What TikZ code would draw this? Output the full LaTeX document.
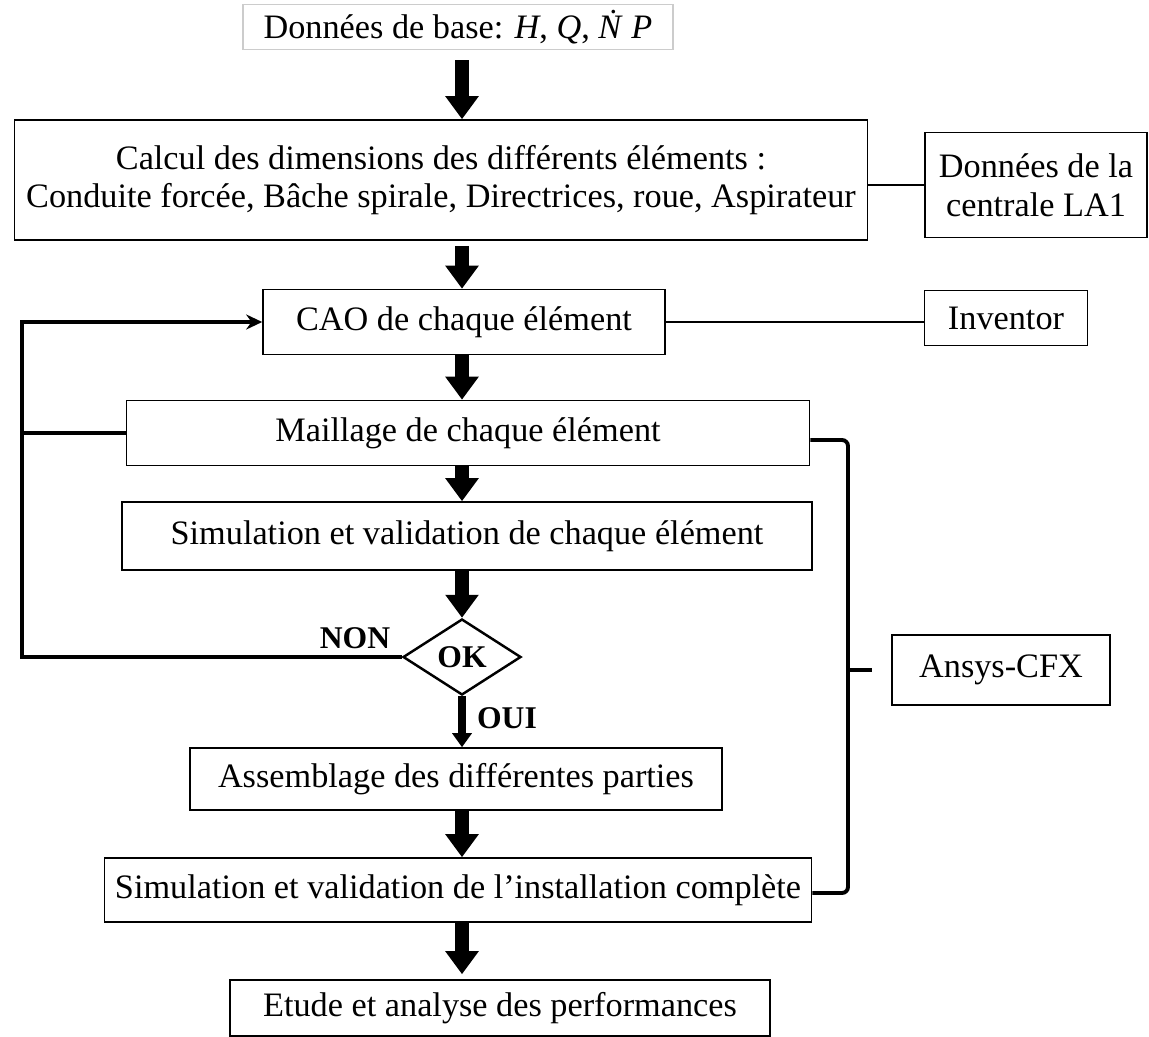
\documentclass[tikz,border=0pt]{standalone}
\usepackage{fontspec}
\setmainfont{Liberation Serif}
\usetikzlibrary{arrows.meta,shapes.geometric}
\begin{document}
\begin{tikzpicture}[x=0.02cm,y=-0.02cm,
  every node/.style={font=\fontsize{19.5}{22}\selectfont},
  box/.style={draw,line width=0.9pt,inner sep=0pt,align=center},
  heavy/.style={line width=0.28cm,-{Triangle[width=0.64cm,length=0.46cm]}},
  medium/.style={line width=0.17cm,-{Triangle[width=0.38cm,length=0.28cm]}},
  loopline/.style={line width=2.2pt},
  lbl/.style={font=\fontsize{18}{21}\selectfont\bfseries}]
\useasboundingbox (0,0) rectangle (1149,1037);
% nodes
\node[box,draw=black!20,minimum width=430*0.02cm,minimum height=45*0.02cm] (base) at (458,27) {Données de base: \textit{H}, \textit{Q}, \textit{\.{N}} \textit{P}};
\node[box,minimum width=853*0.02cm,minimum height=120*0.02cm] (calc) at (441,180) {Calcul des dimensions des différents éléments :\\Conduite forcée, Bâche spirale, Directrices, roue, Aspirateur};
\node[box,minimum width=222*0.02cm,minimum height=105*0.02cm] (la1) at (1036,185) {Données de la\\centrale LA1};
\node[box,minimum width=402*0.02cm,minimum height=65*0.02cm] (cao) at (464,322) {CAO de chaque élément};
\node[box,minimum width=163*0.02cm,minimum height=55*0.02cm] (inv) at (1006,318) {Inventor};
\node[box,minimum width=683*0.02cm,minimum height=65*0.02cm] (mail) at (468,433) {Maillage de chaque élément};
\node[box,minimum width=690*0.02cm,minimum height=68*0.02cm] (simu) at (467,536) {Simulation et validation de chaque élément};
\node[draw,line width=1.4pt,diamond,aspect=1.55,inner sep=0pt,minimum width=118*0.02cm,minimum height=76*0.02cm,font=\fontsize{18}{21}\selectfont\bfseries] (ok) at (462,657) {OK};
\node[box,minimum width=532*0.02cm,minimum height=62*0.02cm] (assem) at (456,779) {Assemblage des différentes parties};
\node[box,minimum width=707*0.02cm,minimum height=64*0.02cm] (inst) at (458,890) {Simulation et validation de l'installation complète};
\node[box,minimum width=540*0.02cm,minimum height=56*0.02cm] (etude) at (500,1008) {Etude et analyse des performances};
\node[box,minimum width=218*0.02cm,minimum height=70*0.02cm] (ansys) at (1001,670) {Ansys-CFX};
\node[lbl] (non) at (355,638) {NON};
\node[lbl] (oui) at (507,718) {OUI};
% helper coordinates
\coordinate (ax) at (462,0);
\coordinate (lx) at (22,0);
\coordinate (bx) at (848,0);
\coordinate (tick) at (872,670);
% heavy arrows
\draw[heavy] ([yshift=-0.2cm]base.south -| ax) -- (calc.north -| ax);
\draw[heavy] ([yshift=-0.1cm]calc.south -| ax) -- (cao.north -| ax);
\draw[heavy] (cao.south -| ax) -- (mail.north -| ax);
\draw[heavy] (mail.south -| ax) -- (simu.north -| ax);
\draw[heavy] (simu.south -| ax) -- (ok.north);
\draw[medium] (ok.south) -- (assem.north -| ax);
\draw[heavy] (assem.south -| ax) -- (inst.north -| ax);
\draw[heavy] (inst.south -| ax) -- ([yshift=0.1cm]etude.north -| ax);
% side connectors
\draw[line width=1.6pt] (calc.east |- la1.west) -- (la1.west);
\draw[line width=1.6pt] (cao.east) -- (cao.east -| inv.west);
% feedback loop
\draw[loopline,-{Stealth[length=0.32cm,width=0.3cm]}] (ok.west) -- (ok.west -| lx) -- (lx |- cao.west) -- (cao.west);
\draw[loopline] (lx |- mail.west) -- (mail.west);
% Ansys bracket
\draw[loopline,rounded corners=0.12cm] ([yshift=-0.14cm]mail.east) -- ([yshift=-0.14cm]mail.east -| bx) -- ([yshift=-0.06cm]inst.east -| bx) -- ([yshift=-0.06cm]inst.east);
\draw[loopline] (bx |- tick) -- (tick);
\end{tikzpicture}
\end{document}
